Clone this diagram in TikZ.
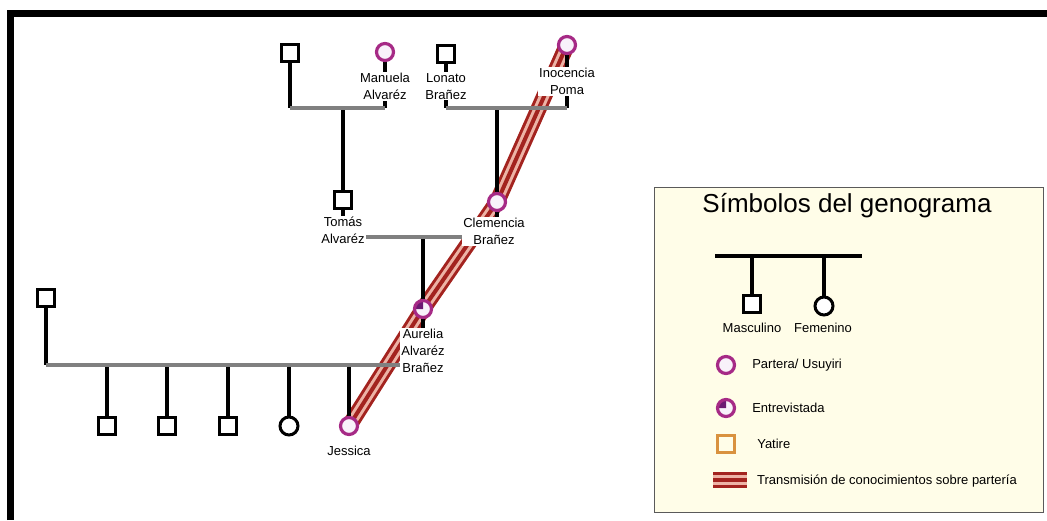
\documentclass[tikz,border=0pt]{standalone}
\usepackage{fontspec}
\setmainfont{Liberation Sans}
\usetikzlibrary{positioning, backgrounds}
\definecolor{partMag}{HTML}{A62A86}
\definecolor{circFill}{HTML}{F8F2FA}
\definecolor{entrePurple}{HTML}{6B1A72}
\definecolor{yatOrange}{HTML}{D9923F}
\definecolor{transRed}{HTML}{A3231F}
\definecolor{transGap}{HTML}{EDB3A6}
\definecolor{barGray}{HTML}{808080}
\definecolor{legendBg}{HTML}{FFFDE8}
\definecolor{legendLine}{HTML}{5A5A5A}

\begin{document}
\begin{tikzpicture}[x=1pt, y=-1pt,
      man/.style={rectangle, draw=black, fill=white, line width=3pt, minimum size=17pt, inner sep=0pt},
      woman/.style={circle, draw=black, fill=white, line width=3pt, minimum size=18pt, inner sep=0pt},
      partera/.style={circle, draw=partMag, fill=circFill, line width=3.2pt, minimum size=17pt, inner sep=0pt},
      entrev/.style={partera, path picture={\fill[entrePurple] (path picture bounding box.center) -- ++(0pt,8.5pt) arc[start angle=90, end angle=180, radius=8.5pt] -- cycle;}},
      yatire/.style={rectangle, draw=yatOrange, fill=legendBg, line width=3.2pt, minimum size=17pt, inner sep=0pt},
      lbl/.style={fill=white, inner sep=1pt, align=center, font=\fontsize{13}{17}\selectfont},
      txt/.style={anchor=west, inner sep=0pt, font=\fontsize{13}{16}\selectfont},
      kin/.style={draw=black, line width=3.4pt},
      bar/.style={draw=barGray, line width=3.4pt},
      transm/.style={draw=transRed, line width=16pt, line join=round, postaction={draw=transGap, line width=10pt, line join=round}, postaction={draw=transRed, line width=4pt, line join=round}}
    ]
      \useasboundingbox (0,0) rectangle (1047,520);
      \draw[line width=7pt] (10,520) -- (10,13) -- (1047,13);

      \node[man] (p1) at (290,53) {};
      \node[partera] (manu) at (385,52) {};
      \node[man] (lona) at (446,54) {};
      \node[partera] (ino) at (567,45) {};
      \node[man] (tomas) at (343,200) {};
      \node[partera] (clem) at (497,202) {};
      \node[entrev] (aur) at (423,309) {};
      \node[man] (p2) at (46,298) {};
      \node[man] (c1) at (107,426) {};
      \node[man] (c2) at (167,426) {};
      \node[man] (c3) at (228,426) {};
      \node[woman] (c4) at (289,426) {};
      \node[partera] (jes) at (349,426) {};

      \node[lbl, below=10pt of manu] (manuL) {Manuela\\Alvaréz};
      \node[lbl, below=8pt of lona] (lonaL) {Lonato\\Brañez};
      \node[lbl, below=12pt of ino] (inoL) {Inocencia\\Poma};
      \node[lbl, below=6pt of tomas] (tomasL) {Tomás\\Alvaréz};
      \node[lbl, below=5pt of clem, xshift=-3pt] (clemL) {Clemencia\\Brañez};
      \node[lbl, below=9pt of aur] (aurL) {Aurelia\\Alvaréz\\Brañez};
      \node[lbl, below=9pt of jes] (jesL) {Jessica};

      \node[font=\fontsize{26}{30}\selectfont] (legT) at (847,206) {Símbolos del genograma};
      \node[man] (lm) at (752,304) {};
      \node[woman] (lw) at (824,306) {};
      \node[txt, anchor=center] (lmL) at (752,328) {Masculino};
      \node[txt, anchor=center] (lwL) at (823,328) {Femenino};
      \node[partera] (lp) at (726,365) {};
      \node[txt, right=16pt of lp] (lpT) {Partera/ Usuyiri};
      \node[entrev] (le) at (726,408) {};
      \node[txt, right=16pt of le] (leT) {Entrevistada};
      \node[yatire] (ly) at (726,444) {};
      \node[txt, right=21pt of ly] (lyT) {Yatire};
      \coordinate (lt1) at (713,480);
      \coordinate (lt2) at (747,480);
      \node[txt] (ltT) at (757,481) {Transmisión de conocimientos sobre partería};
      \coordinate (lb1) at (715,256);
      \coordinate (lb2) at (862,256);
      \draw[kin] (lb1) -- (lb2);
      \draw[kin] (lm |- lb1) -- (lm);
      \draw[kin] (lw |- lb1) -- (lw);

      \begin{scope}[on background layer]
        \draw[legendLine, fill=legendBg, line width=1pt] (654,187) rectangle (1043,512);
        \draw[transm] (ino.center) -- (clem.center) -- (aur.center) -- (jes.center);
        \draw[transm] (lt1) -- (lt2);

        \coordinate (u1) at (343,108);
        \coordinate (u2) at (497,108);
        \coordinate (u3) at (423,237);
        \coordinate (u4) at (46,365);

        \draw[kin] (p1) -- (p1 |- u1);
        \draw[kin] (manu) -- (manu |- u1);
        \draw[kin] (u1) -- (tomas);
        \draw[bar] (p1 |- u1) -- (manu |- u1);

        \draw[kin] (lona) -- (lona |- u2);
        \draw[kin] (ino) -- (ino |- u2);
        \draw[kin] (u2) -- (clem);
        \draw[bar] (lona |- u2) -- (ino |- u2);

        \draw[kin] (tomas) -- (tomas |- u3);
        \draw[kin] (clem) -- (clem |- u3);
        \draw[kin] (u3) -- (aur);
        \draw[bar] (tomas |- u3) -- (clem |- u3);

        \draw[kin] (p2) -- (u4);
        \draw[kin] (aur) -- (aur |- u4);
        \draw[kin] (c1 |- u4) -- (c1);
        \draw[kin] (c2 |- u4) -- (c2);
        \draw[kin] (c3 |- u4) -- (c3);
        \draw[kin] (c4 |- u4) -- (c4);
        \draw[kin] (jes |- u4) -- (jes);
        \draw[bar] (u4) -- (aur |- u4);
      \end{scope}
    \end{tikzpicture}
\end{document}
